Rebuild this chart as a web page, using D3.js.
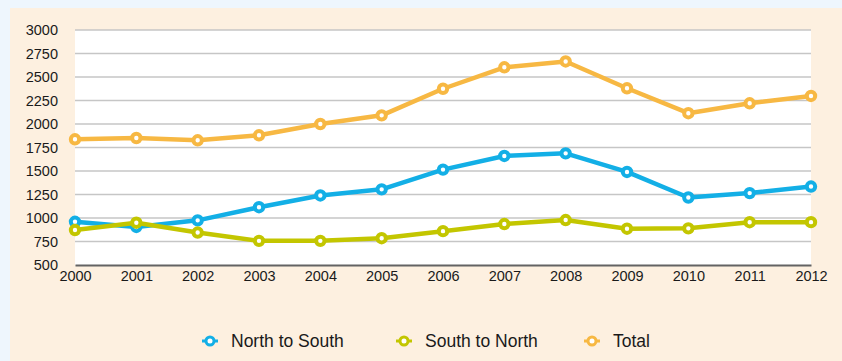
<!DOCTYPE html>
<html>
<head>
<meta charset="utf-8">
<script src="https://cdn.jsdelivr.net/npm/d3@7"></script>
<style>
  html, body { margin: 0; padding: 0; background: #eef6fd; }
  svg { display: block; }
  text { font-family: "Liberation Sans", Arial, Helvetica, sans-serif; fill: #1a1a1a; }
</style>
</head>
<body>
<svg id="chart" width="842" height="361"></svg>
<script>
// Migration flows by year
const years = [2000, 2001, 2002, 2003, 2004, 2005, 2006, 2007, 2008, 2009, 2010, 2011, 2012];
const northToSouth = [960, 905, 975, 1115, 1240, 1305, 1515, 1660, 1688, 1490, 1218, 1265, 1335];
const southToNorth = [872, 950, 845, 757, 757, 785, 860, 936, 978, 886, 890, 955, 956];
const total = [1837, 1851, 1827, 1880, 2000, 2092, 2375, 2603, 2665, 2380, 2115, 2220, 2298];
const yTicks = [500, 750, 1000, 1250, 1500, 1750, 2000, 2250, 2500, 2750, 3000];

const seriesNames = ["North to South", "South to North", "Total"];
const seriesColors = ["#13afe6", "#c3c600", "#f7b843"];
const seriesValues = [northToSouth, southToNorth, total];

const svg = d3.select("#chart");

// beige panel
svg.append("rect")
  .attr("x", 10).attr("y", 8)
  .attr("width", 832).attr("height", 353)
  .attr("fill", "#fdf0e0");

const plot = { left: 75, right: 811, top: 30, bottom: 265 };

svg.append("rect")
  .attr("x", plot.left).attr("y", plot.top)
  .attr("width", plot.right - plot.left).attr("height", plot.bottom - plot.top)
  .attr("fill", "#ffffff");

const x = d3.scalePoint().domain(years).range([plot.left, plot.right]);
const y = d3.scaleLinear().domain([500, 3000]).range([plot.bottom, plot.top]);

// horizontal grid
svg.append("g")
  .selectAll("line")
  .data(yTicks.filter(d => d > 500))
  .join("line")
  .attr("x1", plot.left).attr("x2", plot.right)
  .attr("y1", d => y(d)).attr("y2", d => y(d))
  .attr("stroke", "#c6c6c6").attr("stroke-width", 1.5);

// y axis labels
const yAxis = svg.append("g")
  .attr("transform", `translate(${plot.left},0)`)
  .call(d3.axisLeft(y).tickValues(yTicks).tickSize(0).tickPadding(17).tickFormat(d3.format("d")));
yAxis.select(".domain").remove();
yAxis.selectAll("text")
  .style("font-size", "14.5px")
  .style("font-family", "'Liberation Sans', Arial, sans-serif")
  .attr("fill", "#1a1a1a");

// x axis
const xAxis = svg.append("g")
  .attr("transform", `translate(0,${plot.bottom})`)
  .call(d3.axisBottom(x).tickSize(0).tickPadding(6).tickFormat(d3.format("d")));
xAxis.select(".domain")
  .attr("stroke", "#636363").attr("stroke-width", 2);
xAxis.selectAll("text")
  .style("font-size", "14.5px")
  .style("font-family", "'Liberation Sans', Arial, sans-serif")
  .attr("fill", "#1a1a1a");

// series lines and markers
const line = d3.line().x((d, i) => x(years[i])).y(d => y(d));

seriesValues.forEach((vals, s) => {
  const g = svg.append("g");
  g.append("path")
    .datum(vals)
    .attr("d", line)
    .attr("fill", "none")
    .attr("stroke", seriesColors[s])
    .attr("stroke-width", 4.5)
    .attr("stroke-linejoin", "round");
  g.selectAll("circle")
    .data(vals)
    .join("circle")
    .attr("cx", (d, i) => x(years[i]))
    .attr("cy", d => y(d))
    .attr("r", 4.2)
    .attr("fill", "#ffffff")
    .attr("stroke", seriesColors[s])
    .attr("stroke-width", 4);
});

// legend
const legendX = [210, 404, 592];
const legend = svg.append("g").attr("transform", "translate(0,341)");
seriesNames.forEach((name, s) => {
  const item = legend.append("g").attr("transform", `translate(${legendX[s]},0)`);
  item.append("line")
    .attr("x1", -8).attr("x2", 8)
    .attr("stroke", seriesColors[s]).attr("stroke-width", 3);
  item.append("circle")
    .attr("r", 4).attr("fill", "#ffffff")
    .attr("stroke", seriesColors[s]).attr("stroke-width", 3);
  item.append("text")
    .attr("x", 21).attr("dy", "0.35em")
    .style("font-size", "17.5px")
    .text(name);
});
</script>
</body>
</html>
